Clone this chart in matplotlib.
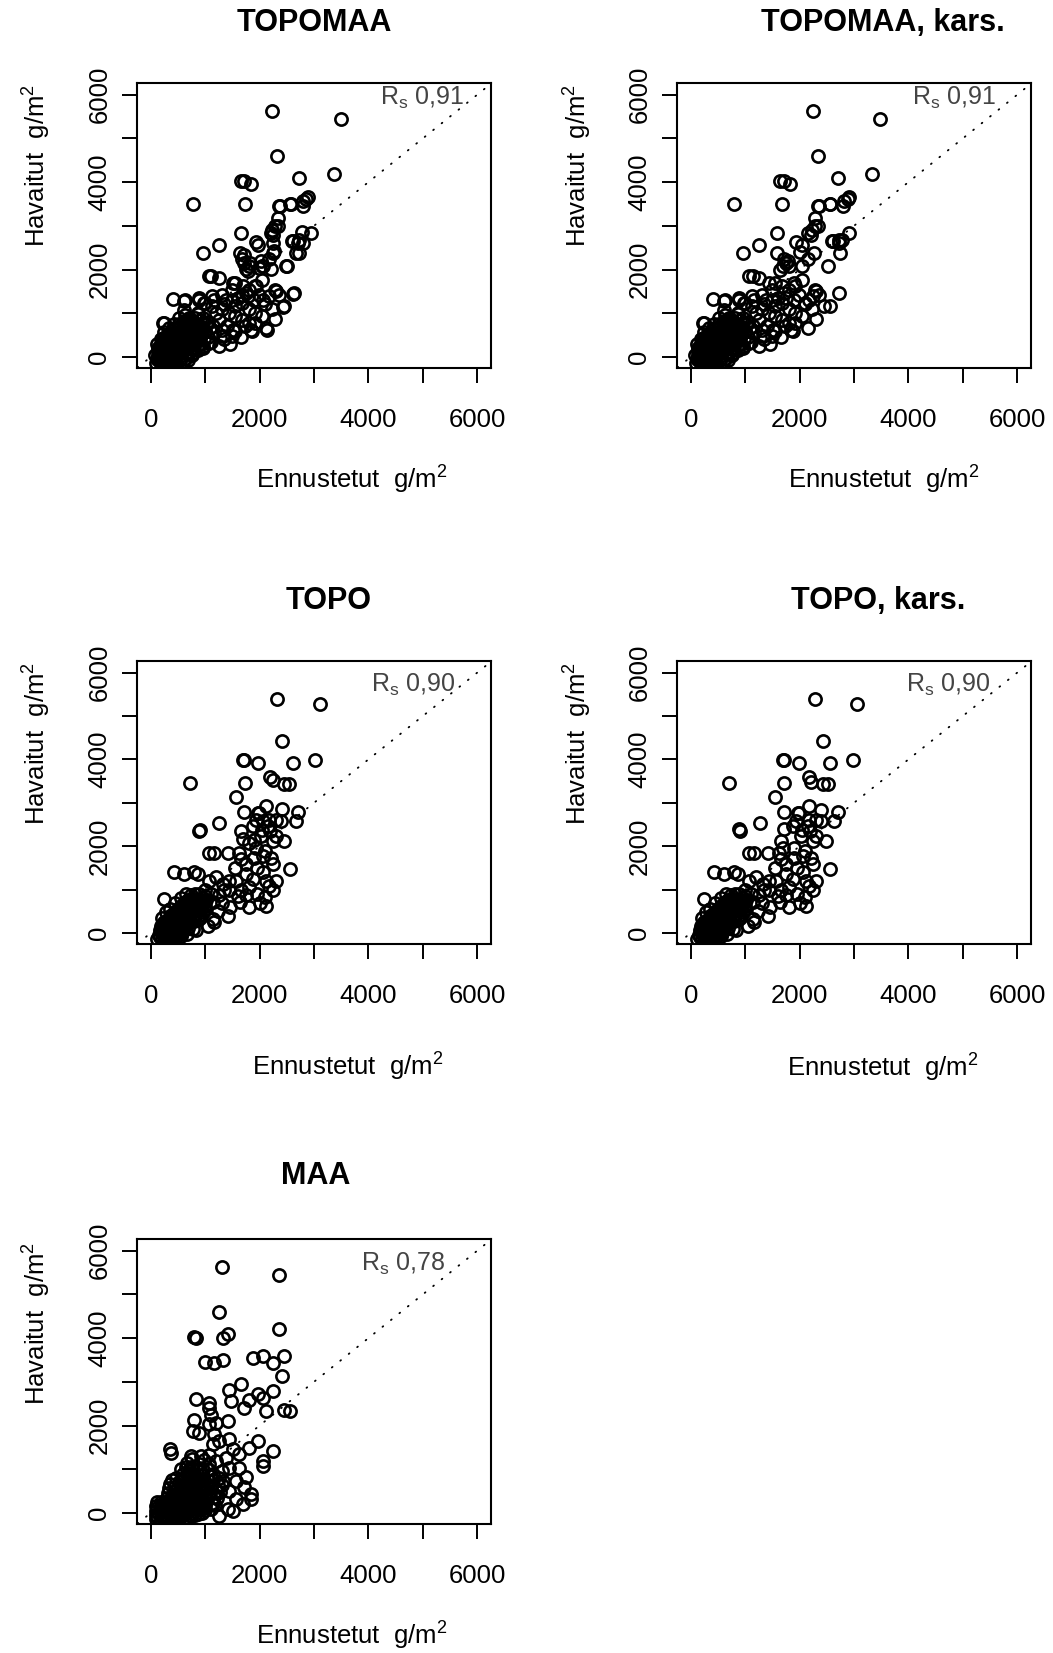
import matplotlib
matplotlib.use("Agg")
import matplotlib.pyplot as plt

plt.rcParams['font.family'] = ['Liberation Sans', 'DejaVu Sans']
plt.rcParams['mathtext.fontset'] = 'custom'
plt.rcParams['mathtext.rm'] = 'Liberation Sans'
plt.rcParams['mathtext.it'] = 'Liberation Sans:italic'
plt.rcParams['mathtext.bf'] = 'Liberation Sans:bold'

# TOPOMAA, sparse points
topomaa_outer = [
    (2230, 5620), (3505, 5455), (2320, 4595), (3375, 4195), (2720, 4095),
    (1660, 4020), (1720, 4020), (1840, 3960), (770, 3500), (1740, 3500),
    (2845, 3615), (2885, 3655), (2805, 3565), (2795, 3450), (2580, 3500), (2375, 3450),
    (2335, 3180), (2335, 2990), (2210, 2840), (2240, 2785), (1660, 2840),
    (2780, 2855), (2945, 2840), (2620, 2650), (2700, 2610), (2795, 2610), (2670, 2380),
    (1260, 2550), (965, 2380), (1935, 2625), (1965, 2570), (2240, 2610), (2240, 2380),
    (2485, 2090), (2025, 2190), (1995, 2035), (1630, 2380), (1720, 2150), (1750, 2015),
    (1780, 1960), (2055, 2075), (2210, 2015), (1060, 1845), (1105, 1845), (1260, 1810),
    (1515, 1695), (1935, 1620), (1690, 1620), (1750, 1465), (1780, 1390), (2610, 1450),
    (2300, 1505), (2180, 1390), (2055, 1310), (2425, 1145), (2285, 870), (2120, 665),
    (1860, 590), (1705, 2340), (1675, 2230), (2350, 3450), (2565, 3510), (2230, 2915),
    (2290, 2990), (2595, 2650), (2720, 2685), (2505, 2075), (2720, 2380), (2260, 2420),
    (2165, 2230), (2045, 2075), (1555, 1695), (1490, 1540), (1800, 2075), (1830, 2150),
    (2045, 1770), (1920, 1620), (1800, 1540), (1985, 1425), (1675, 1425), (2290, 1540),
    (2350, 1425), (2625, 1465), (2445, 1160), (2135, 625),
]

# TOPOMAA, kars., sparse points
topomaa_kars_outer = [
    (2240, 5620), (3470, 5455), (2335, 4595), (3335, 4195), (2700, 4095),
    (1630, 4020), (1720, 4020), (1825, 3960), (800, 3500), (1675, 3500),
    (2885, 3615), (2915, 3655), (2825, 3565), (2795, 3465), (2560, 3500), (2335, 3465),
    (2285, 3180), (2335, 2990), (2150, 2840), (2210, 2785), (1580, 2840),
    (2915, 2840), (2780, 2685), (2610, 2650), (2730, 2610), (2745, 2380),
    (1260, 2550), (965, 2380), (1935, 2625), (2045, 2570), (2005, 2395), (2270, 2380),
    (2515, 2075), (1580, 2380), (1630, 2000), (1690, 2075), (1750, 2150), (1780, 2190),
    (1720, 2230), (1075, 1845), (1135, 1845), (1245, 1810), (1445, 1695), (1905, 1695),
    (1675, 1620), (1720, 1465), (1750, 1350), (2730, 1465), (2300, 1505), (2240, 1390),
    (2180, 1310), (2090, 1235), (2550, 1160), (2300, 870), (2150, 665), (1885, 590),
    (2350, 3450), (2565, 3510), (2230, 2915), (2290, 2990), (2595, 2650), (2720, 2685),
    (2050, 2075), (2150, 2230), (1555, 1695), (1490, 1540), (1800, 2075), (2045, 1770),
    (1920, 1620), (1800, 1540), (1985, 1425), (2290, 1540), (2350, 1425), (2445, 1160),
]

# TOPOMAA (both versions), middle of the cloud
topomaa_mid = [
    (400, 1330), (615, 1290), (880, 1310), (980, 1235), (1165, 1310), (1380, 1310),
    (635, 1310), (880, 1350), (1125, 1390), (1310, 1425), (1490, 1310),
    (1000, 1235), (1125, 1160), (1310, 1085), (1430, 1005), (1555, 930), (1675, 855),
    (1800, 775), (1250, 850), (1400, 700), (1555, 590), (1740, 700), (1920, 775),
    (1160, 550), (1350, 400), (1490, 480), (1540, 1160), (1680, 1240), (1800, 1085),
    (1920, 1010), (2040, 930), (2225, 1085), (233, 777), (755, 91), (215, 780),
    (860, 1000), (950, 900), (1050, 800), (1150, 700), (1300, 620), (1000, 600),
    (900, 450), (1100, 350), (1250, 250), (950, 200), (800, 300), (1450, 300),
    (1650, 450), (1200, 1000), (1350, 1200), (1600, 1350), (1900, 1300), (2100, 1200),
    (1075, 320), (1320, 475), (1505, 625), (1840, 625), (614, 1083), (860, 970),
]

# TOPOMAA (both versions), dense core near the origin
topomaa_core = [
    (100, -150), (120, -60), (130, 40), (140, 140), (160, 250), (170, -110), (200, 0),
    (210, 110), (220, 220), (230, 330), (250, -130), (270, -30), (280, 70), (290, 180),
    (300, 290), (310, 400), (320, 500), (340, -120), (350, -20), (360, 90), (370, 200),
    (380, 310), (390, 420), (400, 530), (410, 630), (430, -100), (440, 0), (450, 110),
    (460, 220), (470, 330), (480, 440), (490, 550), (500, 650), (510, 750), (530, -80),
    (540, 30), (550, 140), (560, 250), (570, 360), (580, 470), (590, 580), (600, 690),
    (610, 800), (600, -120), (640, -30), (650, 80), (660, 190), (670, 300), (680, 410),
    (690, 520), (700, 630), (710, 740), (720, 860), (750, 50), (760, 170), (770, 290),
    (780, 410), (790, 530), (800, 650), (810, 770), (820, 900), (860, 150), (870, 280),
    (880, 420), (890, 560), (900, 700), (910, 840), (960, 250), (980, 420), (1000, 590),
    (1020, 760), (180, 420), (240, 560), (330, 650), (420, 760), (520, 880), (620, 960),
    (80, 50), (110, 300), (150, -20), (250, 40), (330, 160), (420, 280), (510, 400),
    (620, 520), (730, 640), (420, -40), (520, 80), (640, 240), (740, 350), (830, 480),
    (150, 100), (200, -80), (240, 300), (290, -80), (310, 120), (330, 330), (380, -60),
    (400, 150), (420, 450), (460, -140), (480, 60), (500, 250), (520, 520), (560, -30),
    (580, 180), (600, 380), (620, 620), (650, 740), (680, -80), (700, 110), (720, 470),
    (740, 700), (760, 800), (800, 220), (820, 460), (840, 600), (860, 720), (900, 300),
    (920, 500), (940, 650), (960, 780), (1050, 450), (1080, 650), (700, 900), (550, 720),
    (450, 640), (350, 550), (260, 450), (200, 380), (130, 200),
]

# TOPO, sparse points
topo_outer = [
    (2320, 5400), (3115, 5285), (2415, 4435), (2620, 3920), (3025, 3980),
    (1690, 3995), (1720, 3995), (1965, 3920), (725, 3455), (1740, 3455),
    (2190, 3595), (2240, 3515), (2455, 3425), (2535, 3425), (1565, 3140),
    (1720, 2795), (1965, 2760), (2120, 2925), (2415, 2850), (2700, 2795), (2670, 2570),
    (910, 2380), (890, 2340), (1260, 2530), (1935, 2605), (2055, 2570), (2180, 2605),
    (2300, 2605), (2395, 2570), (1660, 2340), (1690, 2155), (1935, 1965), (2240, 2115),
    (2455, 2115), (2025, 2230), (1810, 2080), (1990, 2760), (2150, 2470), (2050, 2380),
    (1870, 2470), (2200, 2340), (2300, 2230), (1900, 2150),
]

# TOPO, kars., sparse points
topo_kars_outer = [
    (2285, 5400), (3050, 5285), (2425, 4435), (2560, 3920), (2990, 3980),
    (1690, 3995), (1720, 3995), (1980, 3920), (695, 3455), (1720, 3455),
    (2180, 3595), (2210, 3480), (2425, 3425), (2525, 3425), (1540, 3140),
    (1720, 2795), (1965, 2760), (2180, 2925), (2400, 2830), (2700, 2795), (2640, 2570),
    (880, 2395), (905, 2340), (1270, 2530), (1935, 2570), (2180, 2605), (2300, 2605),
    (2395, 2570), (1660, 2115), (1690, 1965), (1900, 1965), (2240, 2115), (2490, 2115),
    (2025, 2230), (1990, 2760), (2150, 2470), (2050, 2380), (1870, 2470), (2200, 2340),
    (2300, 2230), (1720, 2400),
]

# TOPO (both versions), middle of the cloud
topo_mid = [
    (1075, 1850), (1165, 1850), (1410, 1850), (1625, 1850), (1660, 1700), (1905, 1735),
    (2055, 1775), (2210, 1735), (2550, 1485), (2055, 1395), (2120, 1205), (2180, 1090),
    (2300, 1205), (2240, 980), (2090, 825), (2120, 620), (1565, 1205), (1445, 1205),
    (1750, 1355), (1875, 1245), (1810, 1055), (1660, 980), (1750, 870), (1630, 720),
    (1810, 600), (430, 1395), (615, 1355), (800, 1395), (860, 1355), (1075, 1205),
    (1200, 1280), (1320, 1130), (1445, 980), (1260, 870), (1135, 720), (1135, 330),
    (1165, 250), (1410, 400), (1230, 510), (245, 790), (830, 70), (2100, 1900),
    (1750, 1600), (1550, 1500), (1950, 1500), (2250, 1600), (1000, 1000), (1100, 900),
    (950, 800), (1300, 700), (1450, 600), (1000, 550), (900, 350), (1050, 150),
    (1350, 1000), (1600, 850), (1950, 900), (2000, 700),
]

# TOPO (both versions), dense core near the origin
topo_core = [
    (120, -130), (150, -40), (170, 60), (190, 160), (210, -140), (230, -50), (250, 60),
    (270, 170), (290, 280), (300, -110), (320, -10), (340, 100), (360, 210), (380, 320),
    (400, 430), (390, -90), (410, 20), (430, 130), (450, 240), (470, 350), (490, 460),
    (510, 570), (480, -60), (500, 50), (520, 160), (540, 270), (560, 380), (580, 490),
    (600, 600), (620, 710), (570, -10), (590, 100), (610, 210), (630, 320), (650, 430),
    (670, 540), (690, 650), (710, 760), (730, 870), (680, 120), (700, 230), (720, 340),
    (740, 450), (760, 560), (780, 670), (800, 780), (820, 900), (790, 280), (810, 400),
    (830, 520), (850, 640), (870, 760), (890, 900), (900, 420), (930, 560), (960, 700),
    (990, 850), (200, 350), (280, 480), (350, 560), (450, 690), (550, 800), (650, 900),
    (260, -120), (350, 0), (440, 80), (530, 200), (620, 300), (710, 420), (800, 540),
    (880, 650), (250, 250), (360, 380), (470, 500), (580, 620), (690, 760),
    (160, -100), (200, 20), (230, 140), (260, -60), (290, 60), (310, 180), (330, 300),
    (360, -60), (380, 60), (400, 180), (420, 300), (440, 420), (460, -20), (480, 120),
    (500, 260), (520, 380), (540, 500), (560, 620), (560, -80), (580, 40), (600, 160),
    (620, 430), (640, 560), (660, 680), (660, -30), (700, 330), (720, 480), (740, 620),
    (760, 740), (770, 100), (780, 400), (820, 640), (840, 760), (860, 330), (880, 540),
    (920, 680), (940, 800), (960, 480), (1000, 620), (1020, 760),
]

# MAA, sparse points
maa_outer = [
    (1310, 5625), (2365, 5450), (1260, 4600), (2365, 4205), (800, 4035), (830, 3995),
    (1320, 3995), (1410, 4085), (1000, 3450), (1165, 3425), (1320, 3500),
    (1885, 3540), (2055, 3600), (2240, 3425), (2455, 3600), (2415, 3125),
    (1445, 2820), (1660, 2950), (1475, 2555), (1720, 2405), (1810, 2590), (1965, 2720),
    (2055, 2630), (2240, 2780), (2120, 2330), (830, 2615), (1075, 2515), (1075, 2405),
    (2445, 2365), (2550, 2325),
]

# MAA, middle of the cloud
maa_mid = [
    (798, 2137), (767, 1871), (890, 1834), (1074, 2024), (1197, 2062), (1412, 2099),
    (1166, 1795), (1105, 2250), (350, 1455), (368, 1380), (1135, 1568), (1258, 1644),
    (1443, 1682), (1504, 1455), (1627, 1341), (1811, 1493), (1965, 1644), (2241, 1417),
    (2057, 1189), (2057, 1075), (1750, 812), (1842, 433), (1842, 319), (1688, 205),
    (1504, 52), (1259, -61), (1443, 507), (1320, 735), (1074, 1114), (921, 1303),
    (736, 1303), (767, 1000), (829, 735), (921, 318), (675, 52), (460, -24),
    (1627, 1038), (1566, 735), (1443, 1038), (1381, 1265), (1197, 1189), (1719, 583),
    (1566, 318), (1412, 90), (1135, 204),
]

# MAA, dense core near the origin
maa_core = [
    (100, -150), (100, -50), (100, 50), (100, 150), (120, 250), (180, -160), (180, -60),
    (180, 40), (180, 140), (190, 240), (260, -150), (260, -50), (260, 50), (260, 150),
    (280, 250), (300, 350), (320, 460), (340, 560), (360, 660), (380, 760), (380, -130),
    (380, -30), (380, 70), (380, 170), (400, 280), (420, 390), (480, -120), (480, -20),
    (480, 80), (480, 180), (500, 280), (520, 400), (540, 520), (560, 640), (580, 760),
    (600, 880), (580, -80), (580, 20), (580, 120), (600, 230), (620, 340), (640, 450),
    (660, 560), (680, 680), (700, 800), (720, 920), (740, 1040), (700, -40), (700, 60),
    (700, 160), (720, 270), (740, 380), (760, 490), (780, 610), (800, 730), (820, 850),
    (840, 970), (820, -60), (820, 40), (820, 150), (840, 260), (860, 380), (880, 500),
    (900, 620), (920, 740), (940, 860), (960, 980), (940, 0), (960, 120), (980, 240),
    (1000, 360), (1020, 480), (1040, 600), (1060, 720), (1080, 840), (1100, 80),
    (1120, 220), (1160, 360), (1200, 500), (1240, 640), (1260, 800), (1300, 950),
    (660, 1150), (760, 1230), (880, 1120), (980, 1200), (1060, 1320),
    (140, 0), (220, 100), (220, -100), (320, 0), (320, 200), (430, 100), (430, 330),
    (540, 0), (540, 200), (640, 100), (650, 340), (760, 0), (770, 200), (880, 90),
    (890, 300), (1000, 160), (450, 600), (600, 500), (1050, 1000), (1150, 880),
    (120, -100), (120, 100), (200, 200), (300, -100), (300, 100), (340, 300), (400, -80),
    (400, 50), (400, 400), (440, 500), (460, 250), (520, -60), (520, 150), (560, 360),
    (600, 600), (620, -30), (640, 190), (680, 400), (700, 520), (720, 640), (740, -80),
    (760, 120), (780, 320), (800, 440), (820, 560), (860, -20), (880, 200), (900, 420),
    (940, 520), (960, 640), (980, 760), (1000, 60), (1040, 300), (1080, 440), (1100, 600),
    (1140, 760), (1180, 180), (1220, 340), (1280, 480), (1300, 640), (880, 780), (800, 900),
    (700, 980), (620, 820), (520, 700), (460, 800), (560, 1000), (650, 1050), (900, 1000),
]

titles = ["TOPOMAA", "TOPOMAA, kars.", "TOPO", "TOPO, kars.", "MAA"]
rs_labels = ["0,91", "0,91", "0,90", "0,90", "0,78"]
panel_points = [
    topomaa_outer + topomaa_mid + topomaa_core,
    topomaa_kars_outer + topomaa_mid + topomaa_core,
    topo_outer + topo_mid + topo_core,
    topo_kars_outer + topo_mid + topo_core,
    maa_outer + maa_mid + maa_core,
]
tick_values = [0, 1000, 2000, 3000, 4000, 5000, 6000]
tick_labels = ["0", "", "2000", "", "4000", "", "6000"]

# ---- layout (pixels of the 1053 x 1653 picture) ----
W, H = 1053, 1653
boxes = [(137, 83, 491, 368), (677, 83, 1031, 368),
         (137, 661, 491, 944), (677, 661, 1031, 944),
         (137, 1239, 491, 1524)]
title_pos = [(314, 23), (883, 23), (329, 601), (878, 601), (316, 1176)]
xlab_pos = [(352, 480), (884, 480), (348, 1067), (883, 1068), (352, 1636)]
ylab_pos = [(37, 165), (578, 165), (37, 743), (578, 743), (37, 1323)]
rs_pos = [(5760, 5930), (5610, 5930), (5600, 5715), (5510, 5715), (5410, 5700)]

fig = plt.figure(figsize=(W / 100, H / 100), dpi=100)

for i in range(5):
    l, t, r, b = boxes[i]
    ax = fig.add_axes([l / W, 1 - b / H, (r - l) / W, (b - t) / H])
    xs, ys = zip(*panel_points[i])
    ax.plot(xs, ys, 'o', mfc='none', mec='black', ms=8.8, mew=1.9, linestyle='none')
    ax.plot([-400, 6400], [-400, 6400], color='black', lw=1.3,
            linestyle=(0, (0.5, 5.5)), dash_capstyle='round')
    ax.set_xlim(-255, 6255)
    ax.set_ylim(-255, 6270)
    ax.set_xticks(tick_values)
    ax.set_xticklabels(tick_labels)
    ax.set_yticks(tick_values)
    ax.set_yticklabels(tick_labels, rotation=90, va='center')
    ax.tick_params(axis='both', direction='out', length=10.5, width=1.4, labelsize=18.5)
    ax.tick_params(axis='x', pad=18)
    ax.tick_params(axis='y', pad=8)
    for s in ax.spines.values():
        s.set_linewidth(1.5)
    ax.text(rs_pos[i][0], rs_pos[i][1], r"R$_{\mathrm{s}}$ " + rs_labels[i],
            ha='right', va='center', color='#444444', fontsize=18)

    fig.text(title_pos[i][0] / W, 1 - title_pos[i][1] / H, titles[i],
             ha='center', va='center', fontsize=22, fontweight='bold')
    fig.text(xlab_pos[i][0] / W, 1 - xlab_pos[i][1] / H, r"Ennustetut  g/m$^{2}$",
             ha='center', va='center', fontsize=18.5)
    fig.text(ylab_pos[i][0] / W, 1 - ylab_pos[i][1] / H, r"Havaitut  g/m$^{2}$",
             ha='center', va='center', fontsize=18.5, rotation=90)

fig.savefig("out.png", dpi=100)
